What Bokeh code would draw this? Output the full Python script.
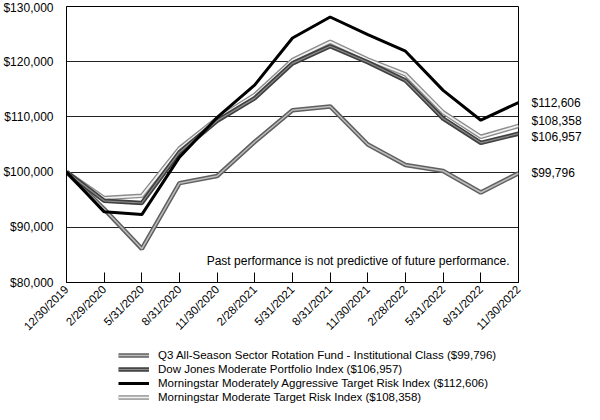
import math
from bokeh.plotting import figure
from bokeh.layouts import column
from bokeh.models import (Range1d, FixedTicker, NumeralTickFormatter, Label,
                          Legend, LegendItem, LinearAxis, CustomJSTickFormatter)
from bokeh.embed import file_html
from bokeh.resources import INLINE

dates = ["12/30/2019", "2/29/2020", "5/31/2020", "8/31/2020", "11/30/2020",
         "2/28/2021", "5/31/2021", "8/31/2021", "11/30/2021", "2/28/2022",
         "5/31/2022", "8/31/2022", "11/30/2022"]
q3_fund = [100000, 93300, 86100, 98000, 99300, 105500, 111200, 111900,
           105000, 101300, 100200, 96300, 99796]
dow_jones = [100000, 94800, 94400, 103600, 109300, 113400, 119700, 122800,
             119900, 116600, 109700, 105300, 106957]
ms_aggressive = [100000, 92800, 92300, 102700, 109900, 115800, 124300, 128100,
                 124900, 121900, 114800, 109400, 112606]
ms_moderate = [100000, 95300, 95700, 104300, 109700, 114000, 120300, 123600,
               120400, 117700, 110800, 106400, 108358]
y_ticks = [80000, 90000, 100000, 110000, 120000, 130000]
labels = ["Q3 All-Season Sector Rotation Fund - Institutional Class ($99,796)",
          "Dow Jones Moderate Portfolio Index ($106,957)",
          "Morningstar Moderately Aggressive Target Risk Index ($112,606)",
          "Morningstar Moderate Target Risk Index ($108,358)"]
end_labels = ["$99,796", "$106,957", "$112,606", "$108,358"]

FONT = "Liberation Sans"
xs = list(range(len(dates)))

# series styles: list of (color, width) layers, outermost first
styles = [
    [("#606060", 4.5), ("#bdbdbd", 1.5)],   # Q3 fund
    [("#404040", 4.5), ("#8c8c8c", 1.2)],   # Dow Jones
    [("black", 3.0)],                        # Aggressive
    [("#8c8c8c", 4.5), ("#f2f2f2", 1.8)],   # Moderate
]
series = [q3_fund, dow_jones, ms_aggressive, ms_moderate]
draw_order = [0, 3, 1, 2]

W, H = 584, 344
ML, MR, MT, MB = 51, 55, 6, 62
p = figure(width=W, height=H, output_backend="svg", toolbar_location=None,
           x_range=Range1d(0, 12), y_range=Range1d(80000, 130000),
           min_border_left=ML, min_border_right=MR, min_border_top=MT,
           min_border_bottom=MB)
p.background_fill_color = "white"
p.border_fill_color = "white"
p.outline_line_color = "black"
p.outline_line_width = 1
p.xgrid.visible = False
p.ygrid.grid_line_color = "#222222"
p.ygrid.grid_line_width = 1

p.yaxis.ticker = FixedTicker(ticks=y_ticks)
p.yaxis.formatter = NumeralTickFormatter(format="$0,0")
p.yaxis.major_tick_line_color = None
p.yaxis.minor_tick_line_color = None
p.yaxis.axis_line_color = "black"
p.yaxis.major_label_standoff = 7
p.yaxis.major_label_text_font = FONT
p.yaxis.major_label_text_font_size = "12px"
p.yaxis.major_label_text_color = "black"

p.xaxis.ticker = FixedTicker(ticks=xs)
p.xaxis.major_label_overrides = {i: d for i, d in enumerate(dates)}
p.xaxis.major_label_orientation = math.pi / 4
p.xaxis.major_tick_in = 10
p.xaxis.major_tick_out = 0
p.xaxis.major_tick_line_color = "black"
p.xaxis.minor_tick_line_color = None
p.xaxis.axis_line_color = "black"
p.xaxis.major_label_standoff = 5
p.xaxis.major_label_text_font = FONT
p.xaxis.major_label_text_font_size = "11.5px"
p.xaxis.major_label_text_color = "black"

for i in draw_order:
    for color, width in styles[i]:
        p.line(xs, series[i], line_color=color, line_width=width)

# end-of-line value labels as a right axis
frame_h = H - MT - MB
px_per_unit = frame_h / 50000.0
end_vals = [q3_fund[-1], dow_jones[-1], ms_aggressive[-1], ms_moderate[-1]]
end_shift_px = [0, -3, 0, 5]
end_pos = [int(round(v + d / px_per_unit)) for v, d in zip(end_vals, end_shift_px)]
p.extra_y_ranges = {"r": Range1d(80000, 130000)}
end_fmt = CustomJSTickFormatter(args=dict(pos=end_pos, labs=end_labels), code="""
    const i = pos.indexOf(Math.round(tick));
    return i >= 0 ? labs[i] : "";
""")
raxis = LinearAxis(y_range_name="r", ticker=FixedTicker(ticks=end_pos),
                   formatter=end_fmt,
                   major_tick_line_color=None, minor_tick_line_color=None,
                   axis_line_color=None, major_label_standoff=7,
                   major_label_text_font=FONT, major_label_text_font_size="12px",
                   major_label_text_color="black")
p.add_layout(raxis, "right")

p.add_layout(Label(x=12, y=83850, text="Past performance is not predictive of future performance.",
                   x_offset=-9, text_align="right", text_baseline="middle",
                   text_font=FONT, text_font_size="12px", text_color="black"))

# legend in its own strip below the chart (series drawn out of view)
p2 = figure(width=W, height=60, output_backend="svg", toolbar_location=None,
            x_range=Range1d(100, 101), y_range=Range1d(0, 1),
            x_axis_type=None, y_axis_type=None, min_border=0,
            min_border_left=0, min_border_right=0, min_border_top=0,
            min_border_bottom=0)
p2.outline_line_color = None
p2.grid.visible = False
items = []
for i, lab in enumerate(labels):
    rs = [p2.line(xs, series[i], line_color=c, line_width=w) for c, w in styles[i]]
    items.append(LegendItem(label=lab, renderers=rs))
legend = Legend(items=items, location=(52, 0), orientation="vertical",
                padding=0, margin=0, spacing=0, border_line_color=None,
                background_fill_alpha=0, glyph_width=31, glyph_height=10,
                label_height=14, label_standoff=9,
                label_text_font=FONT, label_text_font_size="11.5px",
                label_text_color="black", label_text_line_height=1.0)
p2.add_layout(legend, "center")

open("out.html", "w").write(file_html(column(p, p2), INLINE))
